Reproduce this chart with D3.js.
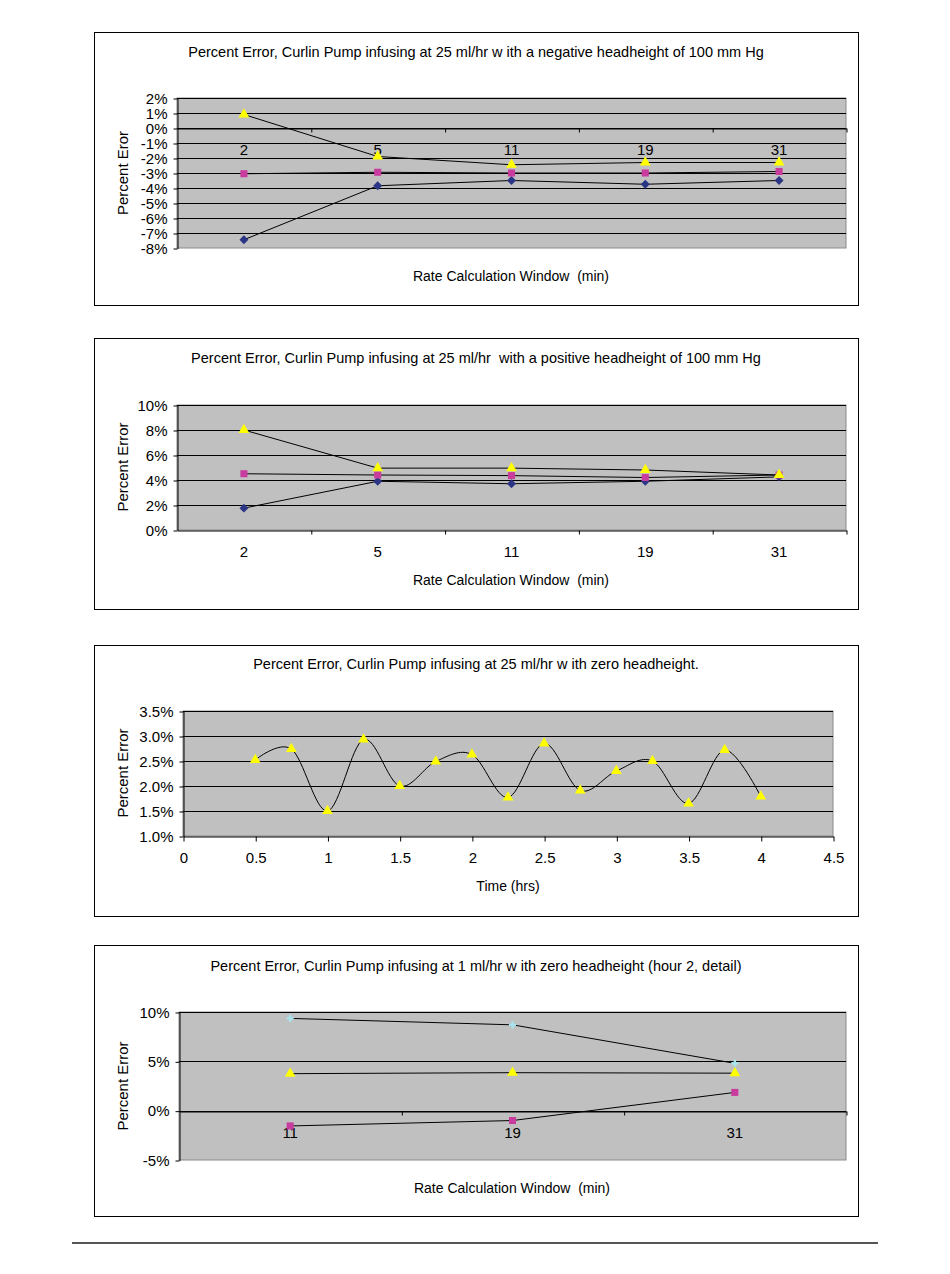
<!DOCTYPE html>
<html>
<head>
<meta charset="utf-8">
<script src="https://cdn.jsdelivr.net/npm/d3@7"></script>
<style>
  body { margin: 0; background: #fff; }
  svg { display: block; font-family: "Liberation Sans", Arial, sans-serif; }
  .tick text { font-size: 15px; fill: #000; }
  .label { font-size: 15px; fill: #000; white-space: pre; }
</style>
</head>
<body>
<div id="page"></div>
<script>
// chart values
const windowsNeg = ["2", "5", "11", "19", "31"];
const negBlue = [-7.45, -3.85, -3.5, -3.75, -3.5];
const negMagenta = [-3.05, -2.95, -3.0, -3.0, -2.9];
const negYellow = [0.9, -1.9, -2.45, -2.3, -2.3];

const windowsPos = ["2", "5", "11", "19", "31"];
const posBlue = [1.75, 3.9, 3.7, 3.9, 4.25];
const posMagenta = [4.5, 4.4, 4.35, 4.2, 4.4];
const posYellow = [8.0, 4.95, 4.95, 4.8, 4.4];

const zeroHours = [0.5, 0.75, 1, 1.25, 1.5, 1.75, 2, 2.25, 2.5, 2.75, 3, 3.25, 3.5, 3.75, 4];
const zeroErr = [2.52, 2.74, 1.5, 2.93, 2.0, 2.49, 2.63, 1.77, 2.85, 1.91, 2.3, 2.5, 1.65, 2.72, 1.79];

const windowsDetail = ["11", "19", "31"];
const detailMagenta = [-1.55, -1.0, 1.85];
const detailYellow = [3.75, 3.85, 3.8];
const detailCyan = [9.35, 8.7, 4.8];

const WIDTH = 950, HEIGHT = 1274;
const GRID_BG = "#c0c0c0";

// hyphen minus like the original sheet
const pct0 = d => d3.format(".0f")(d).replace("\u2212", "-") + "%";
const pct1 = d => d3.format(".1f")(d).replace("\u2212", "-") + "%";

const svg = d3.select("#page").append("svg")
  .attr("width", WIDTH)
  .attr("height", HEIGHT);

const MARK = {
  blue: {shape: d3.symbolSquare, size: 40, rotate: 45, fill: "#2b3585"},
  magenta: {shape: d3.symbolSquare, size: 50, fill: "#c83c9e"},
  yellow: {shape: d3.symbolTriangle, size: 50, fill: "#ffff00"},
  cyan: {shape: d3.symbolCross, size: 28, fill: "#a8e4ec"}
};

function drawFrame(box, title, yTitle, xTitle) {
  svg.append("rect")
    .attr("x", box.x0 + 0.5).attr("y", box.y0 + 0.5)
    .attr("width", box.x1 - box.x0).attr("height", box.y1 - box.y0)
    .attr("fill", "#fff").attr("stroke", "#000");

  svg.append("text").attr("class", "label")
    .attr("x", 476).attr("y", box.titleY)
    .attr("text-anchor", "middle").attr("dominant-baseline", "central")
    .style("font-size", "14.5px")
    .text(title);

  svg.append("text").attr("class", "label")
    .attr("transform", "translate(122," + box.yTitleY + ") rotate(-90)")
    .attr("text-anchor", "middle").attr("dominant-baseline", "central")
    .text(yTitle);

  svg.append("text").attr("class", "label")
    .attr("x", box.xTitleX).attr("y", box.xTitleY)
    .attr("text-anchor", "middle").attr("dominant-baseline", "central")
    .style("font-size", "14px")
    .text(xTitle);
}

function drawPlot(x0, x1, y_scale, ticks, fmt) {
  const [yb, yt] = y_scale.range();
  svg.append("rect")
    .attr("x", x0).attr("y", yt)
    .attr("width", x1 - x0).attr("height", yb - yt)
    .attr("fill", GRID_BG).attr("stroke", "#8a8a8a");

  // gridlines
  svg.append("g").selectAll("line")
    .data(ticks.slice(1))
    .enter().append("line")
      .attr("x1", x0).attr("x2", x1)
      .attr("y1", d => Math.round(y_scale(d)) + 0.5)
      .attr("y2", d => Math.round(y_scale(d)) + 0.5)
      .attr("stroke", "#000");

  const yAxis = svg.append("g")
    .attr("transform", "translate(" + (x0 + 0.5) + ",0.5)")
    .call(d3.axisLeft(y_scale).tickValues(ticks).tickFormat(fmt).tickSize(4).tickPadding(6).tickSizeOuter(0));
  yAxis.selectAll("text").attr("font-family", null);
  yAxis.select(".domain").attr("stroke", "#000");
}

function drawSeries(xs, ys, mark, curve) {
  const pts = xs.map((x, i) => [x, ys[i]]);
  svg.append("path")
    .attr("d", d3.line().curve(curve || d3.curveLinear)(pts))
    .attr("fill", "none").attr("stroke", "#000").attr("stroke-width", 1);
  svg.append("g").selectAll("path")
    .data(pts)
    .enter().append("path")
      .attr("transform", d => "translate(" + d[0] + "," + d[1] + ") rotate(" + (mark.rotate || 0) + ")")
      .attr("d", d3.symbol().type(mark.shape).size(mark.size))
      .attr("fill", mark.fill);
}

function categoryChart(box, cats, yDomain, yTicks, zeroAt, series) {
  const x_scale = d3.scaleBand().domain(cats).range([box.px0, box.px1]);
  const y_scale = d3.scaleLinear().domain(yDomain).range([box.py1, box.py0]);
  drawPlot(box.px0, box.px1, y_scale, yTicks, pct0);

  // category labels and boundary ticks on the zero line
  const yAx = Math.round(y_scale(zeroAt)) + 0.5;
  const labels = svg.append("g")
    .attr("transform", "translate(0," + yAx + ")")
    .call(d3.axisBottom(x_scale).tickSize(0).tickPadding(16));
  labels.select(".domain").remove();
  labels.selectAll("text").attr("font-family", null);

  const idx = d3.scaleLinear().domain([0, cats.length]).range([box.px0, box.px1]);
  const bounds = svg.append("g")
    .attr("transform", "translate(0.5," + yAx + ")")
    .call(d3.axisBottom(idx).tickValues(d3.range(1, cats.length + 1)).tickFormat("").tickSize(4).tickSizeOuter(0));
  bounds.select(".domain").attr("stroke", "#000");

  series.forEach(s => {
    const xs = cats.map(c => x_scale(c) + x_scale.bandwidth() / 2);
    drawSeries(xs, s.values.map(v => y_scale(v)), s.mark, s.curve);
  });
}

// chart 1: negative headheight
const box1 = {x0: 94, y0: 32, x1: 858, y1: 305, titleY: 52, yTitleY: 173,
  xTitleX: 511, xTitleY: 276, px0: 177, px1: 846, py0: 98, py1: 248};
drawFrame(box1, "Percent Error, Curlin Pump infusing at 25 ml/hr w ith a negative headheight of 100 mm Hg",
  "Percent Eror", "Rate Calculation Window  (min)");
categoryChart(box1, windowsNeg, [-8, 2], d3.range(-8, 3, 1), 0, [
  {values: negBlue, mark: MARK.blue},
  {values: negMagenta, mark: MARK.magenta},
  {values: negYellow, mark: MARK.yellow}
]);

// chart 2: positive headheight
const box2 = {x0: 94, y0: 338, x1: 858, y1: 609, titleY: 358, yTitleY: 467,
  xTitleX: 511, xTitleY: 580, px0: 177, px1: 846, py0: 405, py1: 530};
drawFrame(box2, "Percent Error, Curlin Pump infusing at 25 ml/hr  with a positive headheight of 100 mm Hg",
  "Percent Error", "Rate Calculation Window  (min)");
categoryChart(box2, windowsPos, [0, 10], d3.range(0, 11, 2), 0, [
  {values: posBlue, mark: MARK.blue},
  {values: posMagenta, mark: MARK.magenta},
  {values: posYellow, mark: MARK.yellow}
]);

// chart 3: zero headheight over time
const box3 = {x0: 94, y0: 645, x1: 858, y1: 916, titleY: 664, yTitleY: 773,
  xTitleX: 508, xTitleY: 886};
drawFrame(box3, "Percent Error, Curlin Pump infusing at 25 ml/hr w ith zero headheight.",
  "Percent Error", "Time (hrs)");
(function () {
  const x_scale = d3.scaleLinear().domain([0, 4.5]).range([183, 833]);
  const y_scale = d3.scaleLinear().domain([1, 3.5]).range([836, 711]);
  const ticks = [1, 1.5, 2, 2.5, 3, 3.5];
  drawPlot(183, 833, y_scale, ticks, pct1);
  const xAxis = svg.append("g")
    .attr("transform", "translate(0.5,836.5)")
    .call(d3.axisBottom(x_scale).tickValues(d3.range(0, 4.51, 0.5)).tickFormat(d3.format("~g")).tickSize(5).tickPadding(11).tickSizeOuter(0));
  xAxis.selectAll("text").attr("font-family", null);
  xAxis.select(".domain").attr("stroke", "#000");
  drawSeries(zeroHours.map(x_scale), zeroErr.map(y_scale), MARK.yellow, d3.curveCatmullRom.alpha(0));
})();

// chart 4: 1 ml/hr detail
const box4 = {x0: 94, y0: 945, x1: 858, y1: 1216, titleY: 966, yTitleY: 1086,
  xTitleX: 512, xTitleY: 1188, px0: 179, px1: 846, py0: 1012, py1: 1160};
drawFrame(box4, "Percent Error, Curlin Pump infusing at 1 ml/hr w ith zero headheight (hour 2, detail)",
  "Percent Error", "Rate Calculation Window  (min)");
categoryChart(box4, windowsDetail, [-5, 10], [-5, 0, 5, 10], 0, [
  {values: detailMagenta, mark: MARK.magenta},
  {values: detailYellow, mark: MARK.yellow},
  {values: detailCyan, mark: MARK.cyan}
]);

// page footer rule
svg.append("line")
  .attr("x1", 72).attr("x2", 878)
  .attr("y1", 1243).attr("y2", 1243)
  .attr("stroke", "#555").attr("stroke-width", 2);
</script>
</body>
</html>
